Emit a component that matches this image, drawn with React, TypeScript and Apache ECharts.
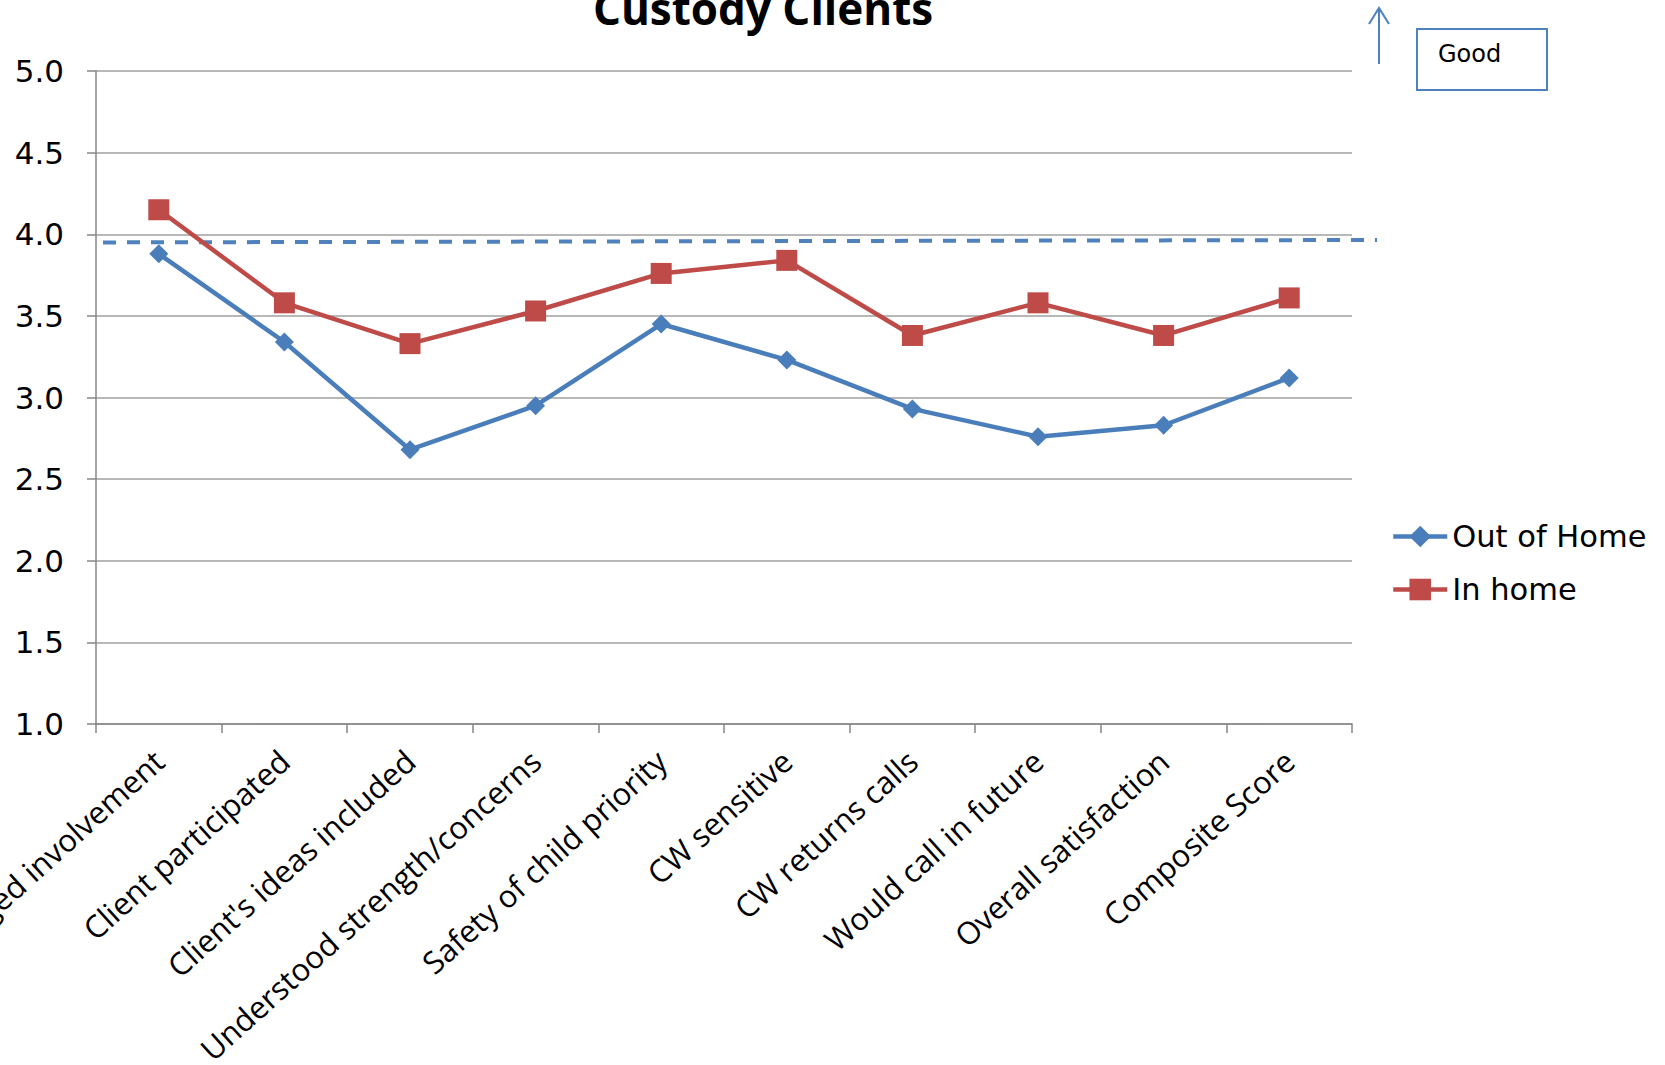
import React, { useEffect, useRef } from "react";
import * as echarts from "echarts";

const categories = [
  "CW encouraged involvement",
  "Client participated",
  "Client's ideas included",
  "Understood strength/concerns",
  "Safety of child priority",
  "CW sensitive",
  "CW returns calls",
  "Would call in future",
  "Overall satisfaction",
  "Composite Score",
];
const outOfHome = [3.88, 3.34, 2.68, 2.95, 3.45, 3.23, 2.93, 2.76, 2.83, 3.12];
const inHome = [4.15, 3.58, 3.33, 3.53, 3.76, 3.84, 3.38, 3.58, 3.38, 3.61];
const yMin = 1;
const yMax = 5;
const yInterval = 0.5;
const goodLevel = [3.95, 3.965];
const seriesNames = ["Out of Home", "In home"];
const titleText = "Custody Clients";
const noteText = "Good";

const BLUE = "#4A7EBB";
const RED = "#BE4B48";

export default function App() {
  const ref = useRef<HTMLDivElement>(null);
  useEffect(() => {
    document.body.style.margin = "0";
    const chart = echarts.init(ref.current!, null, { renderer: "svg" });
    chart.setOption({
      animation: false,
      backgroundColor: "#ffffff",
      grid: { left: 96, right: 313, top: 71, bottom: 341, containLabel: false, outerBoundsMode: "none" },
      legend: {
        orient: "vertical",
        left: 1386,
        top: 516,
        itemWidth: 54,
        itemHeight: 27,
        itemGap: 22,
        data: seriesNames,
        lineStyle: { width: 4.5 },
        textStyle: { fontFamily: "DejaVu Sans", fontSize: 30.5, color: "#000", lineHeight: 31 },
      },
      xAxis: {
        type: "category",
        data: categories,
        boundaryGap: true,
        axisLine: { lineStyle: { color: "#868686", width: 1.5 } },
        axisTick: { show: true, length: 9, lineStyle: { color: "#868686", width: 1.5 }, interval: 0 },
        axisLabel: {
          interval: 0,
          rotate: 42,
          margin: 32,
          fontFamily: "Open Sans",
          fontSize: 31,
          color: "#000",
        },
      },
      yAxis: {
        type: "value",
        min: yMin,
        max: yMax,
        interval: yInterval,
        axisLine: { show: true, lineStyle: { color: "#868686", width: 1.5 } },
        axisTick: { show: true, length: 9, lineStyle: { color: "#868686", width: 1.5 } },
        splitLine: { lineStyle: { color: "#A0A0A0", width: 1.5 } },
        axisLabel: {
          margin: 32,
          fontFamily: "DejaVu Sans",
          fontSize: 31,
          color: "#000",
          formatter: (v: number) => v.toFixed(1),
        },
      },
      series: [
        {
          name: seriesNames[0],
          type: "line",
          data: outOfHome,
          symbol: "diamond",
          symbolSize: 19,
          color: BLUE,
          lineStyle: { color: BLUE, width: 4.5 },
          itemStyle: { color: BLUE },
        },
        {
          name: seriesNames[1],
          type: "line",
          data: inHome,
          symbol: "rect",
          symbolSize: 21,
          color: RED,
          lineStyle: { color: RED, width: 4.5 },
          itemStyle: { color: RED },
        },
      ],
    });

    const yL = chart.convertToPixel({ yAxisIndex: 0 }, goodLevel[0]) as number;
    const yR = chart.convertToPixel({ yAxisIndex: 0 }, goodLevel[1]) as number;

    chart.setOption({
      graphic: [
        {
          type: "text",
          x: 763,
          y: 8,
          style: {
            text: titleText,
            fontFamily: "Open Sans",
            fontWeight: "bold",
            fontSize: 44,
            fill: "#000",
            align: "center",
            verticalAlign: "middle",
          },
        },
        {
          type: "line",
          shape: { x1: 103, y1: yL, x2: 1377, y2: yR },
          style: { stroke: "#4F81BD", lineWidth: 4, lineDash: [13, 11] },
        },
        {
          type: "line",
          shape: { x1: 1379, y1: 64, x2: 1379, y2: 8 },
          style: { stroke: "#4F81BD", lineWidth: 2 },
        },
        {
          type: "polyline",
          shape: { points: [[1369, 24], [1379, 8], [1389, 24]] },
          style: { stroke: "#4F81BD", lineWidth: 2, fill: null },
        },
        {
          type: "rect",
          shape: { x: 1417, y: 29, width: 130, height: 61 },
          style: { stroke: "#4F81BD", lineWidth: 2, fill: "#fff" },
        },
        {
          type: "text",
          x: 1438,
          y: 54,
          style: {
            text: noteText,
            fontFamily: "DejaVu Sans",
            fontSize: 24,
            fill: "#000",
            align: "left",
            verticalAlign: "middle",
          },
        },
      ],
    });
    return () => chart.dispose();
  }, []);
  return (
    <div
      ref={ref}
      style={{ position: "fixed", left: 0, top: 0, width: 1665, height: 1065 }}
    />
  );
}
